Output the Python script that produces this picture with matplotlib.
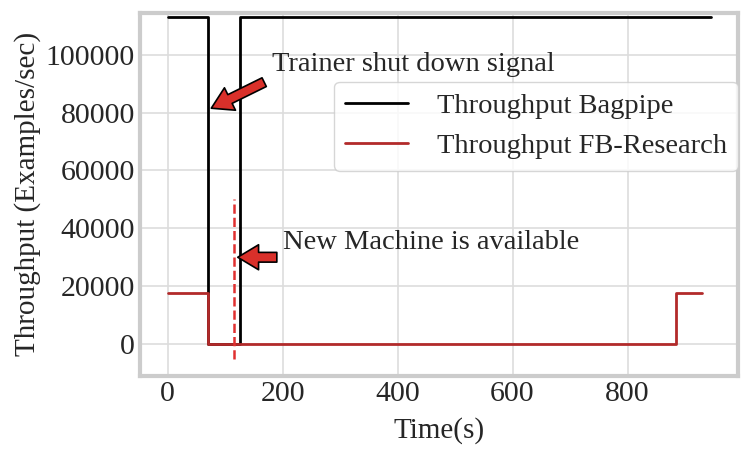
import matplotlib
matplotlib.use("Agg")
import matplotlib.pyplot as plt
import seaborn as sns

# ==================== Data ====================
# step points (seconds, examples/sec)
bagpipe_t = [0, 70, 70, 126, 126, 945]
bagpipe_y = [113000, 113000, 0, 0, 113000, 113000]

fb_t = [0, 70, 70, 884, 884, 930]
fb_y = [17800, 17800, 0, 0, 17800, 17800]

new_machine_t = 115

sns.set_style("whitegrid")
plt.rcParams['font.family'] = ['Liberation Serif', 'DejaVu Serif']
plt.rcParams['mathtext.fontset'] = 'stix'

fig, ax = plt.subplots(figsize=(7.47, 4.54), dpi=100)

ax.plot(bagpipe_t, bagpipe_y, color='black', lw=2, label='Throughput Bagpipe')
ax.plot(fb_t, fb_y, color='#b22a2a', lw=2, label='Throughput FB-Research')
ax.vlines(new_machine_t, -5000, 50000, colors='#e03030', linestyles='--', lw=1.8)

arrow_style = dict(facecolor='#d9302a', edgecolor='black', lw=1.2,
                   width=7, headwidth=18, headlength=15, shrink=0)
ax.annotate('Trainer shut down signal', xy=(76, 81500), xytext=(181, 96500),
            fontsize=20.5, va='center', ha='left', color='#262626')
ax.annotate('', xy=(76, 81500), xytext=(168, 90500), arrowprops=arrow_style)
ax.annotate('New Machine is available', xy=(122, 30000), xytext=(200, 35000),
            fontsize=20.5, va='center', ha='left', color='#262626')
ax.annotate('', xy=(122, 30000), xytext=(190, 30000), arrowprops=arrow_style)

ax.set_ylim(-11000, 114500)
ax.set_xticks([0, 200, 400, 600, 800])
ax.set_yticks([0, 20000, 40000, 60000, 80000, 100000])
ax.set_xlabel('Time(s)', fontsize=21, color='#262626', labelpad=7)
ax.set_ylabel('Throughput (Examples/sec)', fontsize=21, color='#262626', labelpad=3)
ax.tick_params(labelsize=21.5, colors='#262626', length=0, pad=4)
ax.grid(True, color='#dddddd', lw=1.2)

for sp in ax.spines.values():
    sp.set_color('#cccccc')
    sp.set_linewidth(3)

ax.legend(loc='upper right', bbox_to_anchor=(1.0, 0.81), fontsize=20.5,
          frameon=True, handlelength=2.2, handletextpad=1.0, borderaxespad=0.0,
          labelspacing=0.5)

fig.subplots_adjust(left=0.188, right=0.988, top=0.972, bottom=0.172)
fig.savefig('out.png', dpi=100, facecolor='white')
